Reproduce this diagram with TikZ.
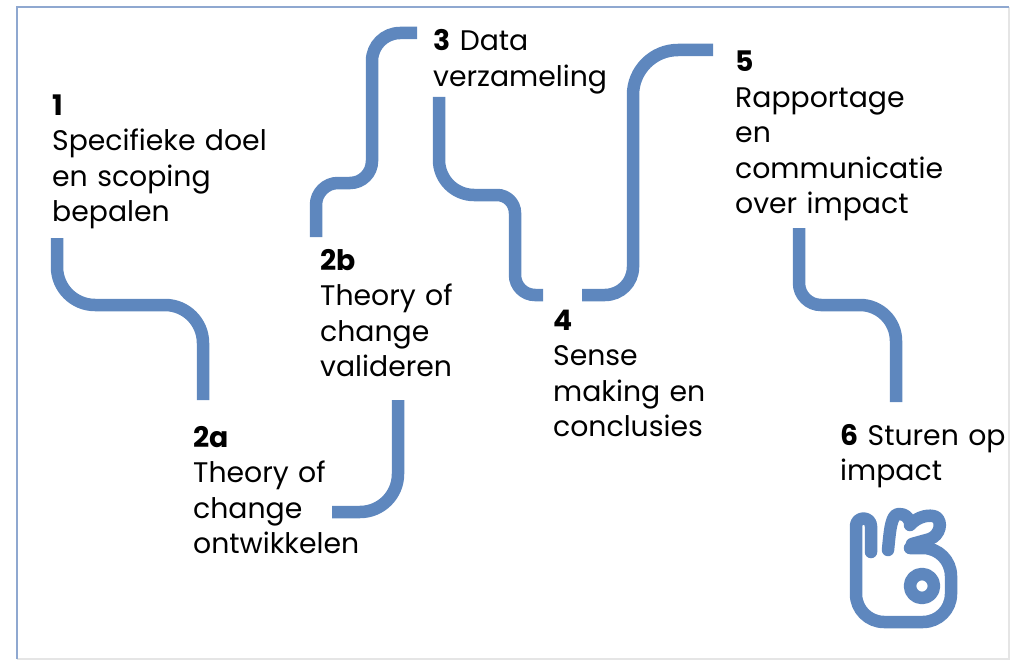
\documentclass[tikz,border=0pt]{standalone}
\usepackage{fontspec}
\setmainfont{Poppins}
\definecolor{lijn}{RGB}{94,135,190}
\definecolor{kader}{RGB}{143,168,208}
\begin{document}
\begin{tikzpicture}[x=1pt,y=-1pt,
    stap/.style={anchor=base west, inner sep=0pt, align=left, text width=260pt,
      font=\fontsize{28.3}{35.5}\selectfont},
    pad/.style={draw=lijn, line width=12.5pt},
    hand/.style={draw=lijn, line width=12.5pt, line cap=round, line join=round}]
  \useasboundingbox (0,0) rectangle (1018,661);
  % kader
  \draw[gray!20, line width=1.5pt] (1009,7) -- (1009,659) -- (17,659);
  \draw[kader, line width=2.5pt] (17,659) -- (17,7) -- (1009,7);

  % stappen
  \node[stap] (n1) at (52,115) {\textbf{1}\\Specifieke doel\\en scoping\\bepalen};
  \node[stap] (n2a) at (193,447) {\textbf{2a}\\Theory of\\change\\ontwikkelen};
  \node[stap] (n2b) at (320,270) {\textbf{2b}\\Theory of\\change\\valideren};
  \node[stap] (n3) at (433,51) {\textbf{3} Data\\verzameling};
  \node[stap] (n4) at (553,330) {\textbf{4}\\Sense\\making en\\conclusies};
  \node[stap] (n5) at (735,72) {\textbf{5}\\Rapportage\\en\\communicatie\\over impact};
  \node[stap] (n6) at (840,445) {\textbf{6} Sturen op\\impact};

  % eindpunten van de paden
  \coordinate (p1) at (57,238);   \coordinate (p2a) at (203,400);
  \coordinate (p2b) at (316,237); \coordinate (p3) at (417,33);
  \coordinate (q3) at (439,97);   \coordinate (p4) at (543,295);
  \coordinate (q4) at (582,295);  \coordinate (p5) at (713,50);
  \coordinate (q5) at (799,228);  \coordinate (p6) at (896,402);
  \coordinate (r2b) at (398,400); \coordinate (r2a) at (332,512);

  % paden
  \draw[pad, rounded corners=38pt] (p1) -- (57,305) -- (203,305) -- (p2a);
  \draw[pad] (p2b) [rounded corners=22pt] -- (316,183) -- (372,183)
    [rounded corners=28pt] -- (372,33) -- (p3);
  \draw[pad] (q3) [rounded corners=35pt] -- (439,195) [rounded corners=18pt] -- (515,195)
    [rounded corners=20pt] -- (515,295) -- (p4);
  \draw[pad] (q4) [rounded corners=28pt] -- (633,295) [rounded corners=45pt] -- (633,50) -- (p5);
  \draw[pad] (q5) [rounded corners=22pt] -- (799,305) [rounded corners=36pt] -- (896,305) -- (p6);
  \draw[pad, rounded corners=38pt] (r2b) -- (398,512) -- (r2a);

  % hand
  \draw[hand] (871,552) -- (871,526) arc[start angle=0, end angle=-180, radius=7.5]
    -- (856,560) [rounded corners=28pt] -- (856,622) -- (951,622) -- (951,548) -- (910,548);
  \draw[hand] (922,586) circle[radius=12];
  \draw[hand] (888,550) .. controls (890,530) and (891,514) .. (899,514)
    .. controls (905,514) and (908,517) .. (910,522);
  \draw[hand] (910,525) .. controls (918,516) and (930,514) .. (936,517)
    .. controls (943,522) and (940,535) .. (930,539) -- (912,544);
\end{tikzpicture}
\end{document}
